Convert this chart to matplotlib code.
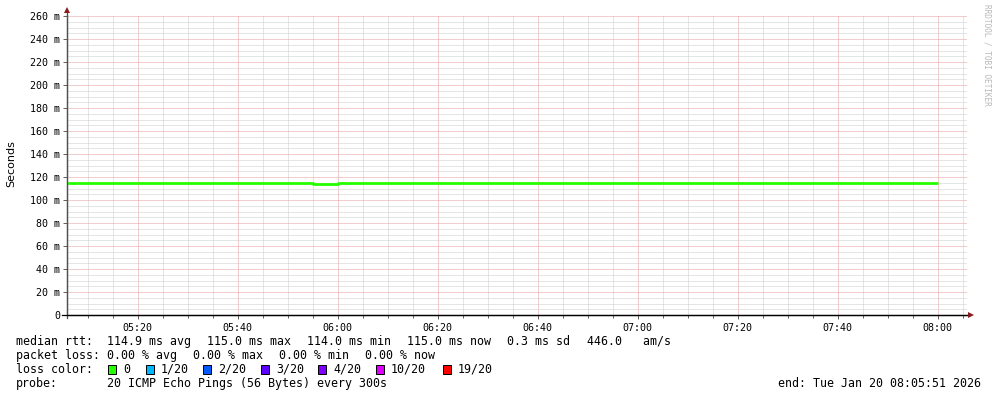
import datetime as dt
import matplotlib
matplotlib.use('Agg')
import matplotlib.pyplot as plt
import matplotlib.dates as mdates
from matplotlib.patches import Rectangle
from matplotlib.ticker import FuncFormatter, MultipleLocator

# median rtt, one value per 5 min step (start time of each step), in ms
step_start = ['05:05', '05:10', '05:15', '05:20', '05:25', '05:30', '05:35',
              '05:40', '05:45', '05:50', '05:55', '06:00', '06:05', '06:10',
              '06:15', '06:20', '06:25', '06:30', '06:35', '06:40', '06:45',
              '06:50', '06:55', '07:00', '07:05', '07:10', '07:15', '07:20',
              '07:25', '07:30', '07:35', '07:40', '07:45', '07:50', '07:55']
median_ms = [114.5, 114.5, 115.0, 115.0, 115.0, 115.0, 115.0,
             115.0, 115.0, 114.5, 114.0, 114.5, 114.5, 114.5,
             115.0, 115.0, 115.0, 115.0, 115.0, 115.0, 115.0,
             115.0, 115.0, 115.0, 115.0, 115.0, 115.0, 115.0,
             115.0, 115.0, 115.0, 115.0, 114.5, 114.5, 115.0]
data_end = '08:00'

t_start = dt.datetime(2026, 1, 20, 5, 5, 51)
t_end = dt.datetime(2026, 1, 20, 8, 5, 51)

loss_labels = ['0', '1/20', '2/20', '3/20', '4/20', '10/20', '19/20']
loss_colors = ['#26ff00', '#00b8ff', '#0059ff', '#5e00ff', '#7e00ff', '#dd00ff', '#ff0000']

rtt_items = ['114.9 ms avg', '115.0 ms max', '114.0 ms min', '115.0 ms now', '0.3 ms sd', '446.0   am/s']
loss_items = ['0.00 % avg', '0.00 % max', '0.00 % min', '0.00 % now']

W, H = 997, 397
mono = 'DejaVu Sans Mono'


def fx(x):
    return x / W


def fy(y):
    return 1 - y / H


def hm(s):
    h, m = s.split(':')
    return dt.datetime(2026, 1, 20, int(h), int(m))


fig = plt.figure(figsize=(W / 100, H / 100), dpi=100)
fig.patch.set_facecolor('white')
ax = fig.add_axes([fx(67), fy(315), 900 / W, 300 / H])
ax.set_facecolor('white')

x = [hm(s) for s in step_start] + [hm(data_end)]
y = median_ms + [median_ms[-1]]
ax.plot(x, y, drawstyle='steps-post', color='#26ff00', lw=2.0, zorder=5,
        solid_capstyle='butt')

ax.set_xlim(t_start, t_end)
ax.set_ylim(0, 300 / 1.15)

ax.xaxis.set_major_locator(mdates.MinuteLocator(byminute=[0, 20, 40]))
ax.xaxis.set_minor_locator(mdates.MinuteLocator(byminute=range(0, 60, 5)))
ax.xaxis.set_major_formatter(mdates.DateFormatter('%H:%M'))
ax.yaxis.set_major_locator(MultipleLocator(20))
ax.yaxis.set_minor_locator(MultipleLocator(5))
ax.yaxis.set_major_formatter(FuncFormatter(lambda v, p: '0' if v == 0 else '%d m' % v))

dot = (0, (1, 1))
ax.grid(which='minor', color='#cdcdcd', lw=0.72, ls=dot)
ax.grid(which='major', color='#e69c9c', lw=0.72, ls=dot)
ax.set_axisbelow(True)

for s in ['top', 'right']:
    ax.spines[s].set_visible(False)
ax.spines['left'].set_color('#505050')
ax.spines['bottom'].set_color('black')
ax.spines['left'].set_linewidth(0.9)
ax.spines['bottom'].set_linewidth(0.9)

ax.tick_params(axis='x', which='major', length=3, width=0.7, color='#606060',
               labelsize=7.2, pad=3)
ax.tick_params(axis='x', which='minor', length=2, width=0.7, color='#606060')
ax.tick_params(axis='y', which='major', length=3, width=0.7, color='#606060',
               labelsize=7.2, pad=2)
ax.tick_params(axis='y', which='minor', length=0)
for lab in ax.get_xticklabels() + ax.get_yticklabels():
    lab.set_family(mono)

# axis arrows
fig.add_artist(plt.Line2D([fx(67), fx(67)], [fy(318), fy(11)], color='#505050', lw=0.9))
fig.add_artist(plt.Line2D([fx(62), fx(969)], [fy(315), fy(315)], color='black', lw=0.9))
fig.add_artist(plt.Line2D([fx(67)], [fy(10)], marker='^', ms=4.5, color='#8b1a1a', mew=0))
fig.add_artist(plt.Line2D([fx(971)], [fy(315)], marker='>', ms=4.5, color='#8b1a1a', mew=0))

fig.text(fx(11), fy(164), 'Seconds', rotation=90, ha='center', va='center',
         fontsize=8, family='DejaVu Sans')
fig.text(fx(987), fy(4), 'RRDTOOL / TOBI OETIKER', rotation=-90, ha='center', va='top',
         fontsize=5.6, family=mono, color='#b8b8b8')

fs = 8.4
fig.text(fx(16), fy(345), 'median rtt:', fontsize=fs, family=mono)
for xp, s in zip([107, 207, 307, 407, 507, 587], rtt_items):
    fig.text(fx(xp), fy(345), s, fontsize=fs, family=mono)

fig.text(fx(16), fy(359), 'packet loss:', fontsize=fs, family=mono)
for xp, s in zip([107, 193, 279, 365], loss_items):
    fig.text(fx(xp), fy(359), s, fontsize=fs, family=mono)

fig.text(fx(16), fy(373), 'loss color:', fontsize=fs, family=mono)
for bx, lab, col in zip([108, 146, 203, 261, 318, 376, 443], loss_labels, loss_colors):
    fig.add_artist(Rectangle((fx(bx), fy(374)), 8 / W, 9 / H, facecolor=col,
                             edgecolor='black', lw=0.7, transform=fig.transFigure))
    fig.text(fx(bx + 15), fy(373), lab, fontsize=fs, family=mono)

fig.text(fx(16), fy(387), 'probe:', fontsize=fs, family=mono)
fig.text(fx(107), fy(387), '20 ICMP Echo Pings (56 Bytes) every 300s', fontsize=fs, family=mono)
fig.text(fx(981), fy(387), 'end: Tue Jan 20 08:05:51 2026', fontsize=fs, family=mono, ha='right')

fig.savefig('out.png', dpi=100, facecolor='white')
